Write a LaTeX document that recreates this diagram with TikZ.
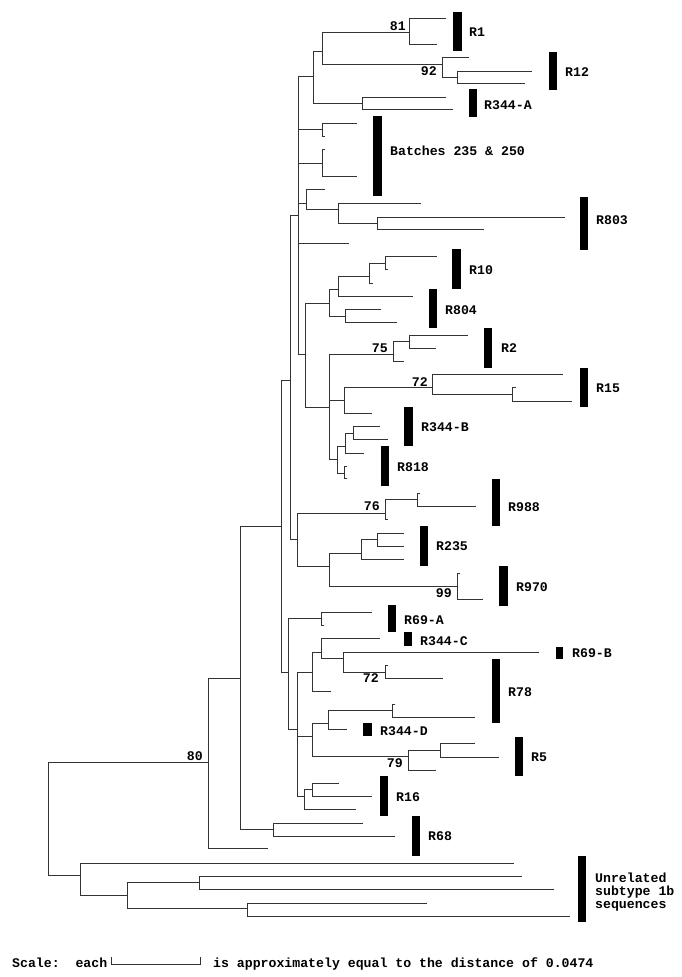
\documentclass[tikz,border=0pt]{standalone}
\usepackage{fontspec}
\setmainfont{Liberation Mono}
\begin{document}
\begin{tikzpicture}[x=1pt,y=-1pt,
  branch/.style={draw=black!80, line width=0.75pt},
  barbox/.style={fill=black},
  lab/.style={anchor=west, inner sep=0pt, font=\fontsize{13.2}{14}\selectfont\bfseries},
  boot/.style={anchor=east, inner sep=0pt, font=\fontsize{13.2}{14}\selectfont\bfseries}]
\useasboundingbox[fill=white] (0,0) rectangle (682,977);
% ---- tree points (x, y of the branch that reaches them)
\foreach \n/\x/\y in {
 root/48/762, n80/208/762, tLong/268/848, nA/240/678, nR68/273/829, tR68a/363/823, tR68b/395/836,
 nB/281/526, nC/290/380, nS/298/215, nTop/313/76, n1/322/51, nR1/409/32, tR1a/446/18, tR1b/437/44,
 nR12/442/64, tR12a/469/57, nR12b/457/77, tR12b/532/71, tR12c/525/83,
 nA344/362/103, tA344a/446/97, tA344b/453/109,
 nBa/322/129, tBa1/357/123, tBa2/325/136, nBb/322/163, tBb1/325/149, tBb2/357/176,
 n803/306/203, t803a/325/189, n803b/338/209, t803b/421/203, n803c/377/223, t803c/565/217, t803d/484/229,
 tSolo/349/243, nMid/305/354,
 n10/329/303, n10a/338/289, n10b/369/276, n10c/385/263, t10a/437/256, t10b/388/269, t10c/373/283, t10d/413/296,
 n804/345/316, t804a/381/309, t804b/397/322,
 nM2/329/407, n2/393/354, n2a/409/341, t2a/468/335, t2b/436/348, t2c/404/361,
 n15/344/400, n15a/432/387, t15a/563/374, n15b/512/394, t15b/516/387, t15c/572/401, t15d/372/413,
 n344B/337/459, n344Ba/345/446, n344Bb/353/433, t344Ba/380/426, t344Bb/388/439, t344Bc/364/453,
 n818/344/473, t818a/347/466, t818b/347/478,
 nRR/297/539, n988/385/513, n988a/417/499, t988a/420/493, t988b/476/506, t988c/388/519,
 n235/329/566, n235a/361/553, n235b/377/539, t235a/404/533, t235b/404/546, t235c/404/559,
 n970/457/586, t970a/460/573, t970b/483/599,
 nL/288/672, n69A/321/618, t69Aa/372/612, t69Ab/324/625,
 nL2/297/729, nL3/312/672, n344C/321/652, t344C/380/638, n69B/343/658, t69B/539/652,
 n78a/385/672, t78a/388/665, t78b/443/678, t78c/331/691,
 nL4/312/736, n78b/328/723, n78c/392/710, t78d/395/704, t78e/475/717, t344D/347/729,
 n5/408/756, n5a/440/750, t5a/475/743, t5b/499/757, t5c/436/770,
 n16/304/796, n16a/312/789, t16a/339/783, t16b/372/796, t16c/356/809,
 nU/80/875, tUa/514/863, nU2/127/895, nU3/199/882, tUb/522/876, tUc/554/889,
 nU4/247/908, tUd/427/903, tUe/570/916}
 \coordinate (\n) at (\x,\y);
% ---- branches
\foreach \p/\c in {
 root/n80, root/nU, n80/nA, n80/tLong, nA/nB, nA/nR68, nR68/tR68a, nR68/tR68b,
 nB/nC, nB/nL, nC/nS, nC/nRR,
 nS/nTop, nS/nBa, nS/nBb, nS/n803, nS/tSolo, nS/nMid,
 nTop/n1, nTop/nA344, n1/nR1, n1/nR12, nR1/tR1a, nR1/tR1b,
 nR12/tR12a, nR12/nR12b, nR12b/tR12b, nR12b/tR12c, nA344/tA344a, nA344/tA344b,
 nBa/tBa1, nBa/tBa2, nBb/tBb1, nBb/tBb2,
 n803/t803a, n803/n803b, n803b/t803b, n803b/n803c, n803c/t803c, n803c/t803d,
 nMid/n10, nMid/nM2, n10/n10a, n10/n804, n10a/n10b, n10a/t10d, n10b/n10c, n10b/t10c,
 n10c/t10a, n10c/t10b, n804/t804a, n804/t804b,
 nM2/n2, nM2/n15, nM2/n344B, n2/n2a, n2/t2c, n2a/t2a, n2a/t2b,
 n15/n15a, n15/t15d, n15a/t15a, n15a/n15b, n15b/t15b, n15b/t15c,
 n344B/n344Ba, n344B/n818, n344Ba/n344Bb, n344Ba/t344Bc, n344Bb/t344Ba, n344Bb/t344Bb,
 n818/t818a, n818/t818b,
 nRR/n988, nRR/n235, n988/n988a, n988/t988c, n988a/t988a, n988a/t988b,
 n235/n235a, n235/n970, n235a/n235b, n235a/t235c, n235b/t235a, n235b/t235b,
 n970/t970a, n970/t970b,
 nL/n69A, nL/nL2, n69A/t69Aa, n69A/t69Ab,
 nL2/nL3, nL2/nL4, nL2/n16, nL3/n344C, nL3/t78c, n344C/t344C, n344C/n69B,
 n69B/t69B, n69B/n78a, n78a/t78a, n78a/t78b,
 nL4/n78b, nL4/n5, n78b/n78c, n78b/t344D, n78c/t78d, n78c/t78e,
 n5/n5a, n5/t5c, n5a/t5a, n5a/t5b,
 n16/n16a, n16/t16c, n16a/t16a, n16a/t16b,
 nU/tUa, nU/nU2, nU2/nU3, nU2/nU4, nU3/tUb, nU3/tUc, nU4/tUd, nU4/tUe}
 \draw[branch] (\p) |- (\c);
% ---- group bars
\foreach \a/\b/\c/\d in {
 453/12/462/51, 549/52/557/90, 469/89/477/117, 373/116/382/196, 580/197/588/250,
 452/249/461/289, 429/289/437/328, 484/328/492/368, 580/368/588/407, 404/407/413/446,
 381/446/389/486, 492/479/500/526, 420/526/428/566, 499/566/508/606, 388/605/396/632,
 404/632/412/646, 556/647/563/659, 492/659/500/723, 363/723/372/736, 515/737/523/776,
 380/776/388/816, 412/816/420/856, 578/856/586/922}
 \fill[barbox] (\a,\b) rectangle (\c,\d);
% ---- group labels
\node[lab] (lR1) at (469,32) {R1};
\node[lab] (lR12) at (565,72) {R12};
\node[lab] (lR344A) at (484,105) {R344-A};
\node[lab] (lBatch) at (390,151) {Batches 235 \& 250};
\node[lab] (lR803) at (596,220) {R803};
\node[lab] (lR10) at (469,270) {R10};
\node[lab] (lR804) at (445,310) {R804};
\node[lab] (lR2) at (501,348) {R2};
\node[lab] (lR15) at (596,388) {R15};
\node[lab] (lR344B) at (421,427) {R344-B};
\node[lab] (lR818) at (397,467) {R818};
\node[lab] (lR988) at (508,507) {R988};
\node[lab] (lR235) at (436,546) {R235};
\node[lab] (lR970) at (516,587) {R970};
\node[lab] (lR69A) at (404,620) {R69-A};
\node[lab] (lR344C) at (420,641) {R344-C};
\node[lab] (lR69B) at (572,653) {R69-B};
\node[lab] (lR78) at (508,692) {R78};
\node[lab] (lR344D) at (380,731) {R344-D};
\node[lab] (lR5) at (531,757) {R5};
\node[lab] (lR16) at (396,797) {R16};
\node[lab] (lR68) at (428,836) {R68};
\node[lab, anchor=base west] (lU1) at (595,882) {Unrelated};
\node[lab, anchor=base west] (lU2) at (595,895) {subtype 1b};
\node[lab, anchor=base west] (lU3) at (595,908) {sequences};
% ---- bootstrap values
\node[boot] (b81) at (406,26) {81};
\node[boot] (b92) at (437,71) {92};
\node[boot] (b75) at (388,348) {75};
\node[boot] (b72a) at (428,382) {72};
\node[boot] (b76) at (380,506) {76};
\node[boot] (b99) at (452,593) {99};
\node[boot] (b72b) at (379,678) {72};
\node[boot] (b79) at (403,763) {79};
\node[boot] (b80) at (203,756) {80};
% ---- scale
\node[lab, anchor=base west] (sc1) at (12,967) {Scale:\ \ each};
\coordinate (sl) at (111,964);
\coordinate (sr) at (200,964);
\coordinate (slt) at (111,957);
\coordinate (srt) at (200,957);
\draw[branch] (slt) -- (sl) -- (sr) -- (srt);
\node[lab, anchor=base west] (sc2) at (213,967) {is approximately equal to the distance of 0.0474};
\end{tikzpicture}
\end{document}
